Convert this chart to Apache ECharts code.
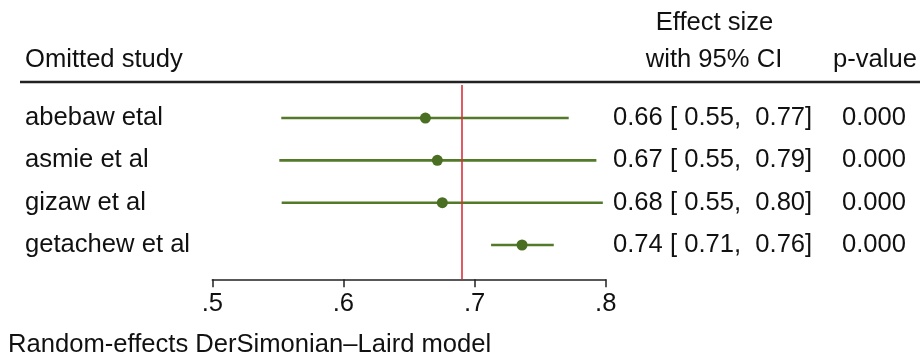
<!DOCTYPE html>
<html>
<head>
<meta charset="utf-8">
<script src="https://cdn.jsdelivr.net/npm/echarts@6/dist/echarts.min.js"></script>
<style>
  html, body { margin: 0; padding: 0; background: #fff; }
  #chart { width: 920px; height: 358px; }
</style>
</head>
<body>
<div id="chart"></div>
<script>
// Données de l'analyse "leave-one-out"
const studies = ['abebaw etal', 'asmie et al', 'gizaw et al', 'getachew et al'];
const effectSizes = [0.6625, 0.6716, 0.6754, 0.7362];
const ciLower = [0.5526, 0.5511, 0.5529, 0.7126];
const ciUpper = [0.7718, 0.7929, 0.7978, 0.7604];
const pValues = ['0.000', '0.000', '0.000', '0.000'];
const overallEffect = 0.6876;
const axisTicks = [0.5, 0.6, 0.7, 0.8];

const green = '#4a6e22';
const lineGreen = '#527a28';
const font = '"Liberation Sans", Arial, sans-serif';
const fontSize = 25.6;

const chart = echarts.init(document.getElementById('chart'));

// Texte "0.66 [ 0.55,  0.77]"
function esText(i) {
    return effectSizes[i].toFixed(2) + ' [ ' + ciLower[i].toFixed(2) + ',  ' + ciUpper[i].toFixed(2) + ']';
}

const rowIndex = studies.map((s, i) => i + 1);

function textStyle(extra) {
    return Object.assign({ fill: '#111', fontSize: fontSize, fontFamily: font, verticalAlign: 'middle', align: 'left' }, extra);
}

const option = {
    animation: false,
    backgroundColor: '#ffffff',
    grid: { left: 212.3, right: 314.3, top: 85, bottom: 78.7 },
    xAxis: {
        type: 'value',
        min: axisTicks[0],
        max: axisTicks[axisTicks.length - 1],
        interval: 0.1,
        splitLine: { show: false },
        axisLine: { show: true, lineStyle: { color: '#222', width: 1.5 } },
        axisTick: { show: true, inside: false, length: 8, lineStyle: { color: '#222', width: 1.5 } },
        axisLabel: {
            margin: 12,
            color: '#111',
            fontSize: fontSize,
            fontFamily: font,
            formatter: v => String(+v.toFixed(1)).replace(/^0/, '')
        }
    },
    yAxis: {
        type: 'value',
        inverse: true,
        min: 0.22,
        max: 4.81,
        show: false
    },
    series: [
        {
            // Intervalles de confiance
            type: 'custom',
            data: rowIndex.map((r, i) => [ciLower[i], ciUpper[i], r]),
            encode: { x: [0, 1], y: 2 },
            renderItem: function(params, api) {
                const y = api.value(2);
                const p1 = api.coord([api.value(0), y]);
                const p2 = api.coord([api.value(1), y]);
                return {
                    type: 'line',
                    shape: { x1: p1[0], y1: p1[1], x2: p2[0], y2: p2[1] },
                    style: { stroke: lineGreen, lineWidth: 2.6 }
                };
            },
            z: 2
        },
        {
            // Estimations ponctuelles
            type: 'scatter',
            data: rowIndex.map((r, i) => [effectSizes[i], r]),
            symbolSize: 11,
            itemStyle: { color: green, opacity: 1 },
            z: 4,
            markLine: {
                silent: true,
                symbol: 'none',
                label: { show: false },
                lineStyle: { color: '#d8313a', width: 1.6, type: 'solid', opacity: 1 },
                data: [{ xAxis: overallEffect }]
            }
        },
        {
            // Colonnes de texte
            type: 'custom',
            clip: false,
            data: rowIndex.map((r, i) => [axisTicks[0], r, i]),
            encode: { x: 0, y: 1 },
            renderItem: function(params, api) {
                const i = api.value(2);
                const y = api.coord([axisTicks[0], api.value(1)])[1];
                return {
                    type: 'group',
                    children: [
                        { type: 'text', style: textStyle({ text: studies[i], x: 25, y: y }) },
                        { type: 'text', style: textStyle({ text: esText(i), x: 613, y: y }) },
                        { type: 'text', style: textStyle({ text: pValues[i], x: 842, y: y }) }
                    ]
                };
            }
        }
    ],
    graphic: [
        { type: 'text', x: 25, y: 60, style: textStyle({ text: 'Omitted study' }) },
        { type: 'text', x: 714.5, y: 23, style: textStyle({ text: 'Effect size', align: 'center' }) },
        { type: 'text', x: 714, y: 60, style: textStyle({ text: 'with 95% CI', align: 'center' }) },
        { type: 'text', x: 833, y: 60, style: textStyle({ text: 'p-value' }) },
        { type: 'line', shape: { x1: 20, y1: 82, x2: 920, y2: 82 }, style: { stroke: '#222', lineWidth: 2.5 } },
        { type: 'text', x: 8, y: 345, style: textStyle({ text: 'Random-effects DerSimonian–Laird model' }) }
    ]
};

chart.setOption(option);

window.addEventListener('resize', () => {
    chart.resize();
});
</script>
</body>
</html>
